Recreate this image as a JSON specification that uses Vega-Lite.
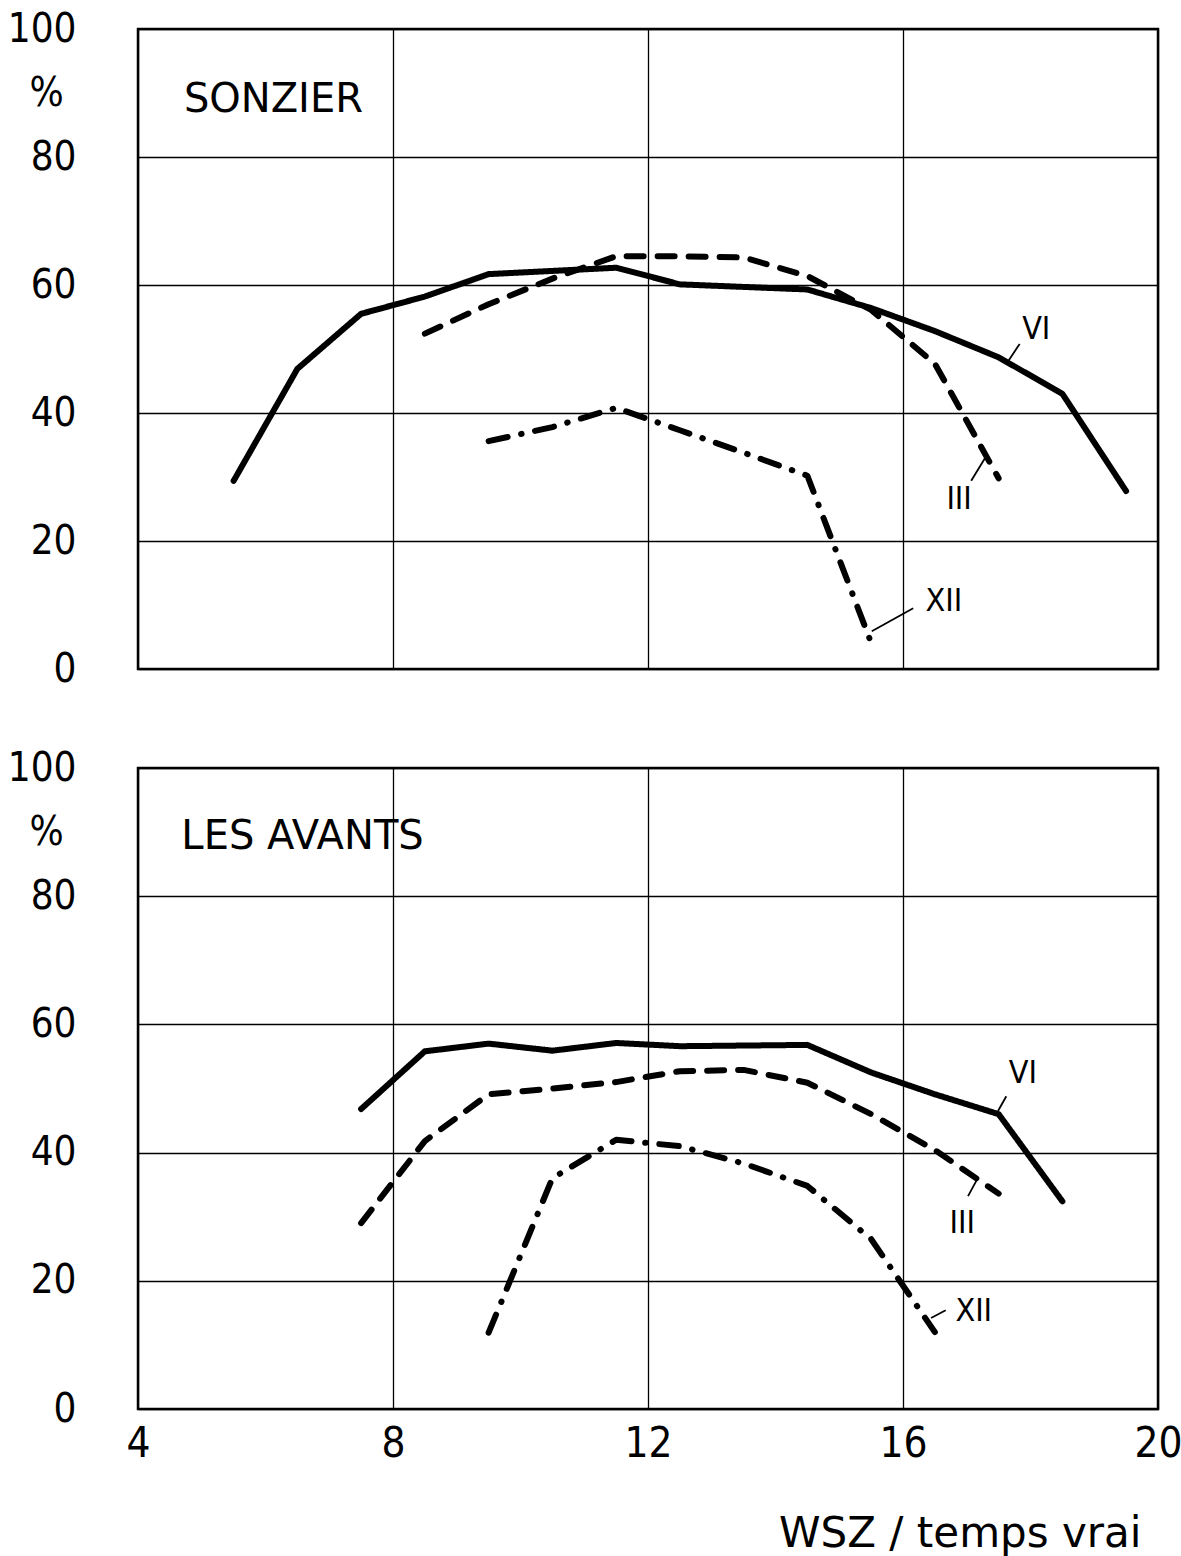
{
  "$schema": "https://vega.github.io/schema/vega-lite/v6.json",
  "background": "white",
  "padding": {"left": 6, "top": 7, "right": 0, "bottom": 0},
  "bounds": "flush",
  "spacing": 99,
  "config": {
    "view": {"stroke": "black", "strokeWidth": 2.5},
    "axis": {
      "grid": true,
      "gridColor": "black",
      "gridOpacity": 1,
      "gridWidth": 1.3,
      "domain": false,
      "ticks": false,
      "format": "d",
      "labelFlush": false,
      "labelFont": "DejaVu Sans Condensed, Liberation Sans",
      "labelFontSize": 40,
      "labelColor": "black",
      "titleColor": "black",
      "titleFontWeight": "normal"
    }
  },
  "datasets": {
    "curves": [
      {"site": "SONZIER", "month": "VI", "hour": 5.5, "pct": 29.4},
      {"site": "SONZIER", "month": "VI", "hour": 6.5, "pct": 46.9},
      {"site": "SONZIER", "month": "VI", "hour": 7.5, "pct": 55.5},
      {"site": "SONZIER", "month": "VI", "hour": 8.5, "pct": 58.2},
      {"site": "SONZIER", "month": "VI", "hour": 9.5, "pct": 61.7},
      {"site": "SONZIER", "month": "VI", "hour": 10.5, "pct": 62.2},
      {"site": "SONZIER", "month": "VI", "hour": 11.5, "pct": 62.7},
      {"site": "SONZIER", "month": "VI", "hour": 12.5, "pct": 60.1},
      {"site": "SONZIER", "month": "VI", "hour": 13.5, "pct": 59.7},
      {"site": "SONZIER", "month": "VI", "hour": 14.5, "pct": 59.3},
      {"site": "SONZIER", "month": "VI", "hour": 15.5, "pct": 56.4},
      {"site": "SONZIER", "month": "VI", "hour": 16.5, "pct": 52.8},
      {"site": "SONZIER", "month": "VI", "hour": 17.5, "pct": 48.7},
      {"site": "SONZIER", "month": "VI", "hour": 18.5, "pct": 43.0},
      {"site": "SONZIER", "month": "VI", "hour": 19.5, "pct": 27.8},
      {"site": "SONZIER", "month": "III", "hour": 8.5, "pct": 52.4},
      {"site": "SONZIER", "month": "III", "hour": 9.5, "pct": 57.0},
      {"site": "SONZIER", "month": "III", "hour": 10.5, "pct": 61.0},
      {"site": "SONZIER", "month": "III", "hour": 11.5, "pct": 64.5},
      {"site": "SONZIER", "month": "III", "hour": 12.5, "pct": 64.5},
      {"site": "SONZIER", "month": "III", "hour": 13.5, "pct": 64.3},
      {"site": "SONZIER", "month": "III", "hour": 14.5, "pct": 61.4},
      {"site": "SONZIER", "month": "III", "hour": 15.5, "pct": 56.1},
      {"site": "SONZIER", "month": "III", "hour": 16.5, "pct": 47.7},
      {"site": "SONZIER", "month": "III", "hour": 17.5, "pct": 29.8},
      {"site": "SONZIER", "month": "XII", "hour": 9.5, "pct": 35.6},
      {"site": "SONZIER", "month": "XII", "hour": 10.5, "pct": 37.8},
      {"site": "SONZIER", "month": "XII", "hour": 11.5, "pct": 40.8},
      {"site": "SONZIER", "month": "XII", "hour": 12.5, "pct": 37.3},
      {"site": "SONZIER", "month": "XII", "hour": 13.5, "pct": 33.8},
      {"site": "SONZIER", "month": "XII", "hour": 14.5, "pct": 30.2},
      {"site": "SONZIER", "month": "XII", "hour": 15.5, "pct": 4.1},
      {"site": "LES AVANTS", "month": "VI", "hour": 7.5, "pct": 46.8},
      {"site": "LES AVANTS", "month": "VI", "hour": 8.5, "pct": 55.8},
      {"site": "LES AVANTS", "month": "VI", "hour": 9.5, "pct": 57.0},
      {"site": "LES AVANTS", "month": "VI", "hour": 10.5, "pct": 55.9},
      {"site": "LES AVANTS", "month": "VI", "hour": 11.5, "pct": 57.1},
      {"site": "LES AVANTS", "month": "VI", "hour": 12.5, "pct": 56.6},
      {"site": "LES AVANTS", "month": "VI", "hour": 13.5, "pct": 56.7},
      {"site": "LES AVANTS", "month": "VI", "hour": 14.5, "pct": 56.8},
      {"site": "LES AVANTS", "month": "VI", "hour": 15.5, "pct": 52.5},
      {"site": "LES AVANTS", "month": "VI", "hour": 16.5, "pct": 49.1},
      {"site": "LES AVANTS", "month": "VI", "hour": 17.5, "pct": 46.0},
      {"site": "LES AVANTS", "month": "VI", "hour": 18.5, "pct": 32.4},
      {"site": "LES AVANTS", "month": "III", "hour": 7.5, "pct": 29.0},
      {"site": "LES AVANTS", "month": "III", "hour": 8.5, "pct": 41.8},
      {"site": "LES AVANTS", "month": "III", "hour": 9.5, "pct": 49.1},
      {"site": "LES AVANTS", "month": "III", "hour": 10.5, "pct": 50.0},
      {"site": "LES AVANTS", "month": "III", "hour": 11.5, "pct": 51.0},
      {"site": "LES AVANTS", "month": "III", "hour": 12.5, "pct": 52.7},
      {"site": "LES AVANTS", "month": "III", "hour": 13.5, "pct": 52.9},
      {"site": "LES AVANTS", "month": "III", "hour": 14.5, "pct": 50.9},
      {"site": "LES AVANTS", "month": "III", "hour": 15.5, "pct": 46.0},
      {"site": "LES AVANTS", "month": "III", "hour": 16.5, "pct": 40.4},
      {"site": "LES AVANTS", "month": "III", "hour": 17.5, "pct": 33.6},
      {"site": "LES AVANTS", "month": "XII", "hour": 9.5, "pct": 11.9},
      {"site": "LES AVANTS", "month": "XII", "hour": 10.5, "pct": 36.0},
      {"site": "LES AVANTS", "month": "XII", "hour": 11.5, "pct": 42.0},
      {"site": "LES AVANTS", "month": "XII", "hour": 12.5, "pct": 41.0},
      {"site": "LES AVANTS", "month": "XII", "hour": 13.5, "pct": 38.3},
      {"site": "LES AVANTS", "month": "XII", "hour": 14.5, "pct": 34.8},
      {"site": "LES AVANTS", "month": "XII", "hour": 15.5, "pct": 26.5},
      {"site": "LES AVANTS", "month": "XII", "hour": 16.5, "pct": 12.0}
    ],
    "monthLabels": [
      {"site": "SONZIER", "text": "VI", "hour": 18.09, "pct": 53.1},
      {"site": "SONZIER", "text": "III", "hour": 16.88, "pct": 26.6},
      {"site": "SONZIER", "text": "XII", "hour": 16.64, "pct": 10.6},
      {"site": "LES AVANTS", "text": "VI", "hour": 17.88, "pct": 52.4},
      {"site": "LES AVANTS", "text": "III", "hour": 16.93, "pct": 29.0},
      {"site": "LES AVANTS", "text": "XII", "hour": 17.11, "pct": 15.3}
    ],
    "leaders": [
      {"site": "SONZIER", "hour": 17.65, "pct": 48.1, "hour2": 17.83, "pct2": 50.8},
      {"site": "SONZIER", "hour": 17.29, "pct": 33.0, "hour2": 17.07, "pct2": 29.4},
      {"site": "SONZIER", "hour": 15.51, "pct": 5.9, "hour2": 16.16, "pct2": 9.5},
      {"site": "LES AVANTS", "hour": 17.49, "pct": 46.5, "hour2": 17.62, "pct2": 48.8},
      {"site": "LES AVANTS", "hour": 17.15, "pct": 35.6, "hour2": 17.02, "pct2": 33.2},
      {"site": "LES AVANTS", "hour": 16.44, "pct": 14.2, "hour2": 16.67, "pct2": 15.4}
    ],
    "stations": [
      {"site": "SONZIER", "hour": 4.72, "pct": 88.9},
      {"site": "LES AVANTS", "hour": 4.68, "pct": 89.2}
    ]
  },
  "vconcat": [
    {
      "width": 1020,
      "height": 640,
      "layer": [
        {
          "data": {"name": "curves"},
          "transform": [{"filter": "datum.site === 'SONZIER'"}],
          "mark": {"type": "line", "color": "black", "strokeWidth": 6, "strokeCap": "round", "strokeJoin": "round"},
          "encoding": {
            "x": {"field": "hour", "type": "quantitative", "scale": {"domain": [4, 20], "nice": false, "zero": false},
                  "axis": {"values": [4, 8, 12, 16, 20], "labels": false, "title": null}},
            "y": {"field": "pct", "type": "quantitative", "scale": {"domain": [0, 100], "nice": false},
                  "axis": {"values": [0, 20, 40, 60, 80, 100], "labelPadding": 62, "title": "%",
                           "titleAngle": 0, "titleFont": "DejaVu Sans Condensed, Liberation Sans", "titleFontSize": 40,
                           "titleAlign": "center", "titleBaseline": "middle", "titleX": -92, "titleY": 64}},
            "detail": {"field": "month"},
            "strokeDash": {"field": "month", "type": "nominal", "legend": null,
                           "scale": {"domain": ["VI", "III", "XII"], "range": [[1, 0], [17, 14], [19.5, 13.75, 0.5, 13.75]]}}
          }
        },
        {
          "data": {"name": "leaders"},
          "transform": [{"filter": "datum.site === 'SONZIER'"}],
          "mark": {"type": "rule", "color": "black", "strokeWidth": 1.8},
          "encoding": {
            "x": {"field": "hour", "type": "quantitative"},
            "y": {"field": "pct", "type": "quantitative"},
            "x2": {"field": "hour2"},
            "y2": {"field": "pct2"}
          }
        },
        {
          "data": {"name": "monthLabels"},
          "transform": [{"filter": "datum.site === 'SONZIER'"}],
          "mark": {"type": "text", "font": "DejaVu Sans Condensed, Liberation Sans", "fontSize": 32, "color": "black", "align": "center", "baseline": "middle"},
          "encoding": {
            "x": {"field": "hour", "type": "quantitative"},
            "y": {"field": "pct", "type": "quantitative"},
            "text": {"field": "text"}
          }
        },
        {
          "data": {"name": "stations"},
          "transform": [{"filter": "datum.site === 'SONZIER'"}],
          "mark": {"type": "text", "font": "DejaVu Sans", "fontSize": 40, "color": "black", "align": "left", "baseline": "middle"},
          "encoding": {
            "x": {"field": "hour", "type": "quantitative"},
            "y": {"field": "pct", "type": "quantitative"},
            "text": {"field": "site"}
          }
        }
      ]
    },
    {
      "width": 1020,
      "height": 641,
      "layer": [
        {
          "data": {"name": "curves"},
          "transform": [{"filter": "datum.site === 'LES AVANTS'"}],
          "mark": {"type": "line", "color": "black", "strokeWidth": 6, "strokeCap": "round", "strokeJoin": "round"},
          "encoding": {
            "x": {"field": "hour", "type": "quantitative", "scale": {"domain": [4, 20], "nice": false, "zero": false},
                  "axis": {"values": [4, 8, 12, 16, 20], "labelPadding": 14, "labelFontSize": 42, "title": "WSZ / temps vrai",
                           "titleFont": "DejaVu Sans", "titleFontSize": 42, "titleAlign": "right",
                           "titleBaseline": "alphabetic", "titleX": 1003, "titleY": 137}},
            "y": {"field": "pct", "type": "quantitative", "scale": {"domain": [0, 100], "nice": false},
                  "axis": {"values": [0, 20, 40, 60, 80, 100], "labelPadding": 62, "title": "%",
                           "titleAngle": 0, "titleFont": "DejaVu Sans Condensed, Liberation Sans", "titleFontSize": 40,
                           "titleAlign": "center", "titleBaseline": "middle", "titleX": -92, "titleY": 64}},
            "detail": {"field": "month"},
            "strokeDash": {"field": "month", "type": "nominal", "legend": null,
                           "scale": {"domain": ["VI", "III", "XII"], "range": [[1, 0], [17, 14], [19.5, 13.75, 0.5, 13.75]]}}
          }
        },
        {
          "data": {"name": "leaders"},
          "transform": [{"filter": "datum.site === 'LES AVANTS'"}],
          "mark": {"type": "rule", "color": "black", "strokeWidth": 1.8},
          "encoding": {
            "x": {"field": "hour", "type": "quantitative"},
            "y": {"field": "pct", "type": "quantitative"},
            "x2": {"field": "hour2"},
            "y2": {"field": "pct2"}
          }
        },
        {
          "data": {"name": "monthLabels"},
          "transform": [{"filter": "datum.site === 'LES AVANTS'"}],
          "mark": {"type": "text", "font": "DejaVu Sans Condensed, Liberation Sans", "fontSize": 32, "color": "black", "align": "center", "baseline": "middle"},
          "encoding": {
            "x": {"field": "hour", "type": "quantitative"},
            "y": {"field": "pct", "type": "quantitative"},
            "text": {"field": "text"}
          }
        },
        {
          "data": {"name": "stations"},
          "transform": [{"filter": "datum.site === 'LES AVANTS'"}],
          "mark": {"type": "text", "font": "DejaVu Sans", "fontSize": 40, "color": "black", "align": "left", "baseline": "middle"},
          "encoding": {
            "x": {"field": "hour", "type": "quantitative"},
            "y": {"field": "pct", "type": "quantitative"},
            "text": {"field": "site"}
          }
        }
      ]
    }
  ]
}
